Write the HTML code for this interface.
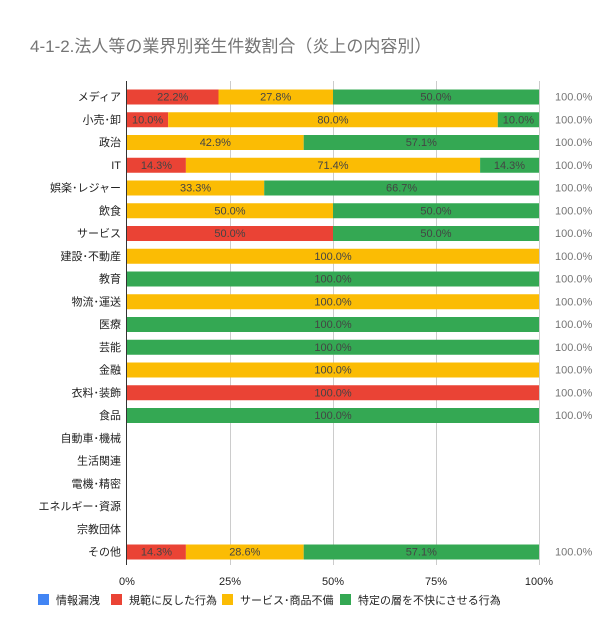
<!DOCTYPE html>
<html><head><meta charset="utf-8"><style>
body{margin:0;background:#fff}
svg{display:block;font-family:"Liberation Sans","Noto Sans CJK JP",sans-serif}
</style></head><body>
<svg width="600" height="621" viewBox="0 0 600 621">
<rect width="600" height="621" fill="#fff"/>
<text x="30" y="52" font-size="17" fill="#757575">4-1-2.法人等の業界別発生件数割合（炎上の内容別）</text>
<g stroke="#cccccc" stroke-width="1">
<line x1="230.5" y1="81" x2="230.5" y2="565"/>
<line x1="333.5" y1="81" x2="333.5" y2="565"/>
<line x1="436.5" y1="81" x2="436.5" y2="565"/>
<line x1="539.5" y1="81" x2="539.5" y2="565"/>
</g>
<g>
<!-- 0 メディア -->
<rect x="127" y="89.5" width="91.5" height="15" fill="#ea4335"/>
<rect x="218.5" y="89.5" width="114.5" height="15" fill="#fbbc04"/>
<rect x="333" y="89.5" width="206" height="15" fill="#34a853"/>
<!-- 1 -->
<rect x="127" y="112.25" width="41.2" height="15" fill="#ea4335"/>
<rect x="168.2" y="112.25" width="329.6" height="15" fill="#fbbc04"/>
<rect x="497.8" y="112.25" width="41.2" height="15" fill="#34a853"/>
<!-- 2 -->
<rect x="127" y="135" width="176.7" height="15" fill="#fbbc04"/>
<rect x="303.7" y="135" width="235.3" height="15" fill="#34a853"/>
<!-- 3 -->
<rect x="127" y="157.75" width="58.9" height="15" fill="#ea4335"/>
<rect x="185.9" y="157.75" width="294.2" height="15" fill="#fbbc04"/>
<rect x="480.1" y="157.75" width="58.9" height="15" fill="#34a853"/>
<!-- 4 -->
<rect x="127" y="180.5" width="137.2" height="15" fill="#fbbc04"/>
<rect x="264.2" y="180.5" width="274.8" height="15" fill="#34a853"/>
<!-- 5 -->
<rect x="127" y="203.25" width="206" height="15" fill="#fbbc04"/>
<rect x="333" y="203.25" width="206" height="15" fill="#34a853"/>
<!-- 6 -->
<rect x="127" y="226" width="206" height="15" fill="#ea4335"/>
<rect x="333" y="226" width="206" height="15" fill="#34a853"/>
<!-- 7-14 -->
<rect x="127" y="248.75" width="412" height="15" fill="#fbbc04"/>
<rect x="127" y="271.5" width="412" height="15" fill="#34a853"/>
<rect x="127" y="294.25" width="412" height="15" fill="#fbbc04"/>
<rect x="127" y="317" width="412" height="15" fill="#34a853"/>
<rect x="127" y="339.75" width="412" height="15" fill="#34a853"/>
<rect x="127" y="362.5" width="412" height="15" fill="#fbbc04"/>
<rect x="127" y="385.25" width="412" height="15" fill="#ea4335"/>
<rect x="127" y="408" width="412" height="15" fill="#34a853"/>
<!-- 20 -->
<rect x="127" y="544.5" width="58.9" height="15" fill="#ea4335"/>
<rect x="185.9" y="544.5" width="117.8" height="15" fill="#fbbc04"/>
<rect x="303.7" y="544.5" width="235.3" height="15" fill="#34a853"/>
</g>
<line x1="126.5" y1="81" x2="126.5" y2="565" stroke="#333" stroke-width="1"/>
<g font-size="11" fill="#444" text-anchor="middle">
<text x="172.7" y="100.5">22.2%</text><text x="275.7" y="100.5">27.8%</text><text x="436" y="100.5">50.0%</text>
<text x="147.6" y="123.25">10.0%</text><text x="333" y="123.25">80.0%</text><text x="518.4" y="123.25">10.0%</text>
<text x="215.3" y="146">42.9%</text><text x="421.3" y="146">57.1%</text>
<text x="156.5" y="168.75">14.3%</text><text x="333" y="168.75">71.4%</text><text x="509.5" y="168.75">14.3%</text>
<text x="195.6" y="191.5">33.3%</text><text x="401.6" y="191.5">66.7%</text>
<text x="230" y="214.25">50.0%</text><text x="436" y="214.25">50.0%</text>
<text x="230" y="237">50.0%</text><text x="436" y="237">50.0%</text>
<text x="333" y="259.75">100.0%</text><text x="333" y="282.5">100.0%</text><text x="333" y="305.25">100.0%</text>
<text x="333" y="328">100.0%</text><text x="333" y="350.75">100.0%</text><text x="333" y="373.5">100.0%</text>
<text x="333" y="396.25">100.0%</text><text x="333" y="419">100.0%</text>
<text x="156.5" y="555.5">14.3%</text><text x="244.8" y="555.5">28.6%</text><text x="421.3" y="555.5">57.1%</text>
</g>
<g font-size="11" fill="#757575">
<text x="555" y="100.5">100.0%</text><text x="555" y="123.25">100.0%</text><text x="555" y="146">100.0%</text>
<text x="555" y="168.75">100.0%</text><text x="555" y="191.5">100.0%</text><text x="555" y="214.25">100.0%</text>
<text x="555" y="237">100.0%</text><text x="555" y="259.75">100.0%</text><text x="555" y="282.5">100.0%</text>
<text x="555" y="305.25">100.0%</text><text x="555" y="328">100.0%</text><text x="555" y="350.75">100.0%</text>
<text x="555" y="373.5">100.0%</text><text x="555" y="396.25">100.0%</text><text x="555" y="419">100.0%</text>
<text x="555" y="555.5">100.0%</text>
</g>
<g font-size="11" fill="#222" text-anchor="end">
<text x="121" y="100.5">メディア</text><text x="121" y="123.25">小売･卸</text><text x="121" y="146">政治</text>
<text x="121" y="168.75">IT</text><text x="121" y="191.5">娯楽･レジャー</text><text x="121" y="214.25">飲食</text>
<text x="121" y="237">サービス</text><text x="121" y="259.75">建設･不動産</text><text x="121" y="282.5">教育</text>
<text x="121" y="305.25">物流･運送</text><text x="121" y="328">医療</text><text x="121" y="350.75">芸能</text>
<text x="121" y="373.5">金融</text><text x="121" y="396.25">衣料･装飾</text><text x="121" y="419">食品</text>
<text x="121" y="441.75">自動車･機械</text><text x="121" y="464.5">生活関連</text><text x="121" y="487.25">電機･精密</text>
<text x="121" y="510">エネルギー･資源</text><text x="121" y="532.75">宗教団体</text><text x="121" y="555.5">その他</text>
</g>
<g font-size="11" fill="#222" text-anchor="middle">
<text x="127" y="585">0%</text><text x="230" y="585">25%</text><text x="333" y="585">50%</text><text x="436" y="585">75%</text><text x="539" y="585">100%</text>
</g>
<g font-size="11" fill="#222">
<rect x="38" y="594" width="11" height="11" fill="#4285f4"/><text x="56" y="604">情報漏洩</text>
<rect x="111" y="594" width="11" height="11" fill="#ea4335"/><text x="129" y="604">規範に反した行為</text>
<rect x="222" y="594" width="11" height="11" fill="#fbbc04"/><text x="240" y="604">サービス･商品不備</text>
<rect x="340" y="594" width="11" height="11" fill="#34a853"/><text x="358" y="604">特定の層を不快にさせる行為</text>
</g>
</svg>
</body></html>
